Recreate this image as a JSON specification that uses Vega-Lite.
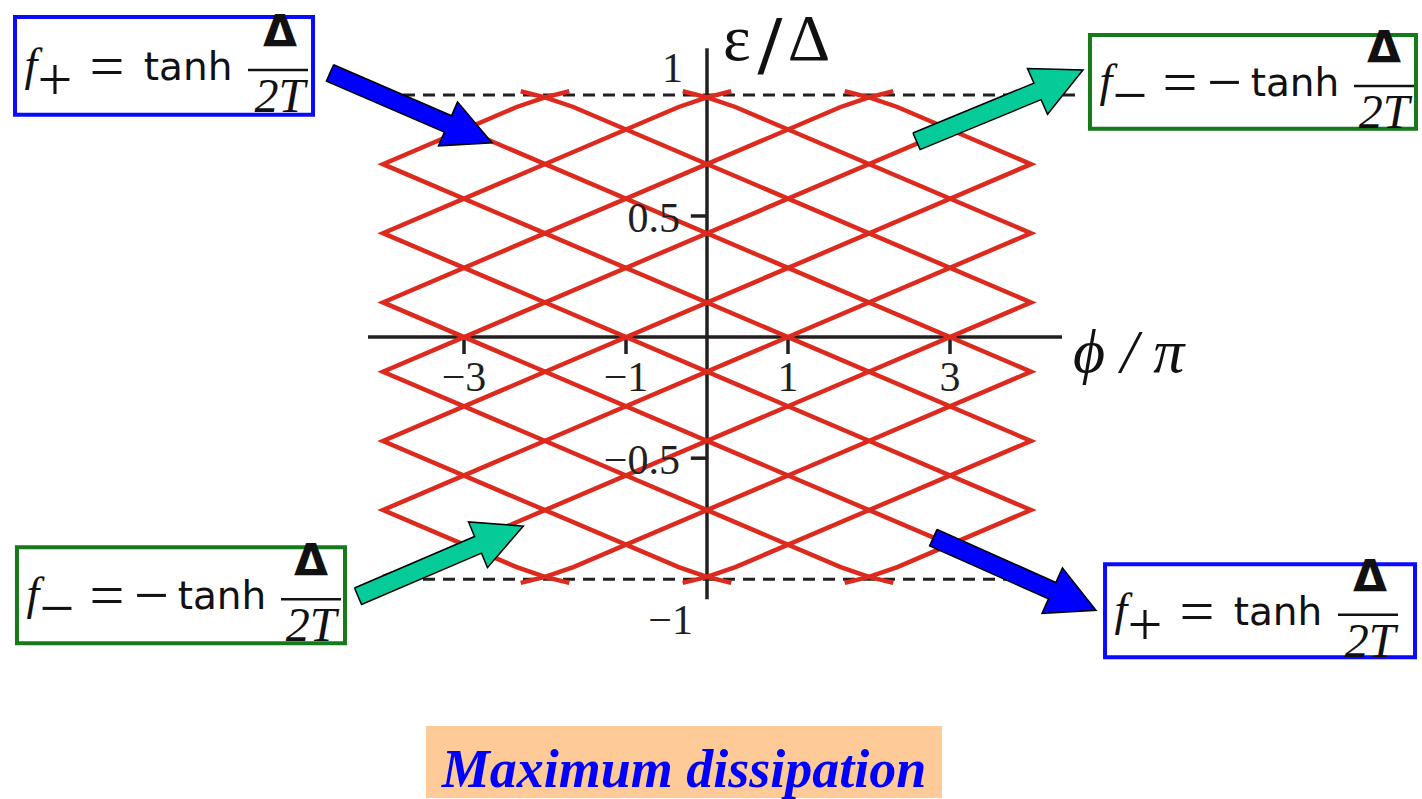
{
  "$schema": "https://vega.github.io/schema/vega-lite/v6.json",
  "width": 1422,
  "height": 799,
  "autosize": {"type": "fit", "contains": "padding"},
  "padding": 0,
  "background": "white",
  "config": {"view": {"stroke": null}},
  "datasets": {
    "banner": [{"phi": -3.469, "phi2": 2.901, "eps": -1.6062, "eps2": -1.9031}],
    "gapEdges": [
      {"phi": -4.0, "phi2": 4.57, "eps": 1.0},
      {"phi": -4.0, "phi2": 4.0, "eps": -1.0}
    ],
    "axes": [
      {"phi": -4.185, "phi2": 4.383, "eps": 0, "eps2": 0},
      {"phi": 0, "phi2": 0, "eps": 1.193, "eps2": -1.0825}
    ],
    "xticks": [
      {"phi": -3, "eps": 0, "eps2": -0.07, "label": "−3"},
      {"phi": -1, "eps": 0, "eps2": -0.07, "label": "−1"},
      {"phi": 1, "eps": 0, "eps2": -0.07, "label": "1"},
      {"phi": 3, "eps": 0, "eps2": -0.07, "label": "3"}
    ],
    "yticks": [
      {"phi": -0.2, "phi2": 0, "eps": 0.5, "label": "0.5"},
      {"phi": -0.2, "phi2": 0, "eps": -0.5, "label": "−0.5"}
    ],
    "yEnds": [
      {"phi": 0, "eps": 1, "label": "1"},
      {"phi": 0, "eps": -1, "label": "−1"}
    ],
    "levels": [
      {"c": "A", "k": 0, "phi": 1.7, "eps": -1.015},
      {"c": "A", "k": 1, "phi": 2.0, "eps": -0.99},
      {"c": "A", "k": 2, "phi": 2.35, "eps": -0.95},
      {"c": "A", "k": 3, "phi": 4.0, "eps": -0.714},
      {"c": "A", "k": 4, "phi": -4.0, "eps": 0.429},
      {"c": "A", "k": 5, "phi": -0.35, "eps": 0.95},
      {"c": "A", "k": 6, "phi": 0.0, "eps": 0.99},
      {"c": "A", "k": 7, "phi": 0.3, "eps": 1.015},

      {"c": "B", "k": 0, "phi": -0.3, "eps": -1.015},
      {"c": "B", "k": 1, "phi": 0.0, "eps": -0.99},
      {"c": "B", "k": 2, "phi": 0.35, "eps": -0.95},
      {"c": "B", "k": 3, "phi": 4.0, "eps": -0.429},
      {"c": "B", "k": 4, "phi": -4.0, "eps": 0.714},
      {"c": "B", "k": 5, "phi": -2.35, "eps": 0.95},
      {"c": "B", "k": 6, "phi": -2.0, "eps": 0.99},
      {"c": "B", "k": 7, "phi": -1.7, "eps": 1.015},

      {"c": "C", "k": 0, "phi": -2.3, "eps": -1.015},
      {"c": "C", "k": 1, "phi": -2.0, "eps": -0.99},
      {"c": "C", "k": 2, "phi": -1.65, "eps": -0.95},
      {"c": "C", "k": 3, "phi": 4.0, "eps": -0.143},
      {"c": "C", "k": 4, "phi": -3.65, "eps": 0.95},
      {"c": "C", "k": 5, "phi": -4.0, "eps": 0.99},

      {"c": "D", "k": 0, "phi": -4.0, "eps": -0.99},
      {"c": "D", "k": 1, "phi": -3.65, "eps": -0.95},
      {"c": "D", "k": 2, "phi": 4.0, "eps": 0.143},
      {"c": "D", "k": 3, "phi": -1.65, "eps": 0.95},
      {"c": "D", "k": 4, "phi": -2.0, "eps": 0.99},
      {"c": "D", "k": 5, "phi": -2.3, "eps": 1.015},

      {"c": "E", "k": 0, "phi": -1.7, "eps": -1.015},
      {"c": "E", "k": 1, "phi": -2.0, "eps": -0.99},
      {"c": "E", "k": 2, "phi": -2.35, "eps": -0.95},
      {"c": "E", "k": 3, "phi": -4.0, "eps": -0.714},
      {"c": "E", "k": 4, "phi": 4.0, "eps": 0.429},
      {"c": "E", "k": 5, "phi": 0.35, "eps": 0.95},
      {"c": "E", "k": 6, "phi": 0.0, "eps": 0.99},
      {"c": "E", "k": 7, "phi": -0.3, "eps": 1.015},

      {"c": "F", "k": 0, "phi": 0.3, "eps": -1.015},
      {"c": "F", "k": 1, "phi": 0.0, "eps": -0.99},
      {"c": "F", "k": 2, "phi": -0.35, "eps": -0.95},
      {"c": "F", "k": 3, "phi": -4.0, "eps": -0.429},
      {"c": "F", "k": 4, "phi": 4.0, "eps": 0.714},
      {"c": "F", "k": 5, "phi": 2.35, "eps": 0.95},
      {"c": "F", "k": 6, "phi": 2.0, "eps": 0.99},
      {"c": "F", "k": 7, "phi": 1.7, "eps": 1.015},

      {"c": "G", "k": 0, "phi": 2.3, "eps": -1.015},
      {"c": "G", "k": 1, "phi": 2.0, "eps": -0.99},
      {"c": "G", "k": 2, "phi": 1.65, "eps": -0.95},
      {"c": "G", "k": 3, "phi": -4.0, "eps": -0.143},
      {"c": "G", "k": 4, "phi": 3.65, "eps": 0.95},
      {"c": "G", "k": 5, "phi": 4.0, "eps": 0.99},

      {"c": "H", "k": 0, "phi": 4.0, "eps": -0.99},
      {"c": "H", "k": 1, "phi": 3.65, "eps": -0.95},
      {"c": "H", "k": 2, "phi": -4.0, "eps": 0.143},
      {"c": "H", "k": 3, "phi": 1.65, "eps": 0.95},
      {"c": "H", "k": 4, "phi": 2.0, "eps": 0.99},
      {"c": "H", "k": 5, "phi": 2.3, "eps": 1.015}
    ],
    "arrows": [
      {"a": 1, "tone": "blue", "k": 0, "phi": -4.610, "eps": 1.1245},
      {"a": 1, "tone": "blue", "k": 1, "phi": -3.153, "eps": 0.9142},
      {"a": 1, "tone": "blue", "k": 2, "phi": -3.080, "eps": 0.9711},
      {"a": 1, "tone": "blue", "k": 3, "phi": -2.654, "eps": 0.8021},
      {"a": 1, "tone": "blue", "k": 4, "phi": -3.315, "eps": 0.7897},
      {"a": 1, "tone": "blue", "k": 5, "phi": -3.242, "eps": 0.8466},
      {"a": 1, "tone": "blue", "k": 6, "phi": -4.699, "eps": 1.0569},
      {"a": 1, "tone": "blue", "k": 7, "phi": -4.610, "eps": 1.1245},

      {"a": 2, "tone": "teal", "k": 0, "phi": 2.542, "eps": 0.8425},
      {"a": 2, "tone": "teal", "k": 1, "phi": 4.036, "eps": 1.0487},
      {"a": 2, "tone": "teal", "k": 2, "phi": 3.957, "eps": 1.1089},
      {"a": 2, "tone": "teal", "k": 3, "phi": 4.642, "eps": 1.1031},
      {"a": 2, "tone": "teal", "k": 4, "phi": 4.204, "eps": 0.9200},
      {"a": 2, "tone": "teal", "k": 5, "phi": 4.125, "eps": 0.9802},
      {"a": 2, "tone": "teal", "k": 6, "phi": 2.631, "eps": 0.7740},
      {"a": 2, "tone": "teal", "k": 7, "phi": 2.542, "eps": 0.8425},

      {"a": 3, "tone": "teal", "k": 0, "phi": -4.352, "eps": -1.0359},
      {"a": 3, "tone": "teal", "k": 1, "phi": -2.870, "eps": -0.8235},
      {"a": 3, "tone": "teal", "k": 2, "phi": -2.944, "eps": -0.7633},
      {"a": 3, "tone": "teal", "k": 3, "phi": -2.268, "eps": -0.7802},
      {"a": 3, "tone": "teal", "k": 4, "phi": -2.710, "eps": -0.9522},
      {"a": 3, "tone": "teal", "k": 5, "phi": -2.784, "eps": -0.8920},
      {"a": 3, "tone": "teal", "k": 6, "phi": -4.265, "eps": -1.1043},
      {"a": 3, "tone": "teal", "k": 7, "phi": -4.352, "eps": -1.0359},

      {"a": 4, "tone": "blue", "k": 0, "phi": 2.840, "eps": -0.7942},
      {"a": 4, "tone": "blue", "k": 1, "phi": 4.307, "eps": -1.0132},
      {"a": 4, "tone": "blue", "k": 2, "phi": 4.388, "eps": -0.9530},
      {"a": 4, "tone": "blue", "k": 3, "phi": 4.802, "eps": -1.1278},
      {"a": 4, "tone": "blue", "k": 4, "phi": 4.136, "eps": -1.1411},
      {"a": 4, "tone": "blue", "k": 5, "phi": 4.216, "eps": -1.0808},
      {"a": 4, "tone": "blue", "k": 6, "phi": 2.748, "eps": -0.8619},
      {"a": 4, "tone": "blue", "k": 7, "phi": 2.840, "eps": -0.7942}
    ],
    "boxes": [
      {"box": "TL", "tone": "blue", "phi": -8.543, "phi2": -4.864, "eps": 1.3216, "eps2": 0.9175},
      {"box": "TR", "tone": "green", "phi": 4.728, "phi2": 8.753, "eps": 1.2474, "eps2": 0.8598},
      {"box": "BL", "tone": "green", "phi": -8.519, "phi2": -4.469, "eps": -0.8680, "eps2": -1.2639},
      {"box": "BR", "tone": "blue", "phi": 4.914, "phi2": 8.741, "eps": -0.9381, "eps2": -1.3216}
    ],
    "fractionBars": [
      {"box": "TL", "phi": -5.667, "phi2": -4.926, "eps": 1.1031},
      {"box": "BR", "phi": 7.790, "phi2": 8.531, "eps": -1.1464},
      {"box": "TR", "phi": 7.988, "phi2": 8.728, "eps": 1.0371},
      {"box": "BL", "phi": -5.259, "phi2": -4.519, "eps": -1.0825}
    ],
    "formula": [
      {"box": "TL", "part": "f", "text": "f", "phi": -8.346, "eps": 1.0619},
      {"box": "TL", "part": "sub", "text": "+", "phi": -8.049, "eps": 1.0577},
      {"box": "TL", "part": "eq", "text": "=", "phi": -7.407, "eps": 1.1113},
      {"box": "TL", "part": "tanh", "text": "tanh", "phi": -6.407, "eps": 1.0619},
      {"box": "TL", "part": "num", "text": "Δ", "phi": -5.272, "eps": 1.1979},
      {"box": "TL", "part": "den", "text": "2T", "phi": -5.272, "eps": 0.9299},

      {"box": "BR", "part": "f", "text": "f", "phi": 5.111, "eps": -1.1876},
      {"box": "BR", "part": "sub", "text": "+", "phi": 5.407, "eps": -1.1918},
      {"box": "BR", "part": "eq", "text": "=", "phi": 6.049, "eps": -1.1381},
      {"box": "BR", "part": "tanh", "text": "tanh", "phi": 7.049, "eps": -1.1876},
      {"box": "BR", "part": "num", "text": "Δ", "phi": 8.185, "eps": -1.0515},
      {"box": "BR", "part": "den", "text": "2T", "phi": 8.185, "eps": -1.3196},

      {"box": "TR", "part": "f", "text": "f", "phi": 4.926, "eps": 0.9959},
      {"box": "TR", "part": "sub", "text": "−", "phi": 5.222, "eps": 0.9918},
      {"box": "TR", "part": "eq", "text": "=", "phi": 5.840, "eps": 1.0454},
      {"box": "TR", "part": "neg", "text": "−", "phi": 6.390, "eps": 1.0454},
      {"box": "TR", "part": "tanh", "text": "tanh", "phi": 7.259, "eps": 0.9959},
      {"box": "TR", "part": "num", "text": "Δ", "phi": 8.358, "eps": 1.1320},
      {"box": "TR", "part": "den", "text": "2T", "phi": 8.358, "eps": 0.8639},

      {"box": "BL", "part": "f", "text": "f", "phi": -8.321, "eps": -1.1237},
      {"box": "BL", "part": "sub", "text": "−", "phi": -8.025, "eps": -1.1278},
      {"box": "BL", "part": "eq", "text": "=", "phi": -7.407, "eps": -1.0742},
      {"box": "BL", "part": "neg", "text": "−", "phi": -6.857, "eps": -1.0742},
      {"box": "BL", "part": "tanh", "text": "tanh", "phi": -5.988, "eps": -1.1237},
      {"box": "BL", "part": "num", "text": "Δ", "phi": -4.889, "eps": -0.9876},
      {"box": "BL", "part": "den", "text": "2T", "phi": -4.889, "eps": -1.2557}
    ],
    "yTitle": [
      {"part": "sym", "text": "ε", "phi": 0.370, "eps": 1.1443},
      {"part": "slash", "text": "/", "phi": 0.778, "eps": 1.0866},
      {"part": "sym", "text": "Δ", "phi": 1.259, "eps": 1.1443}
    ],
    "xTitle": [{"text": "ϕ / π", "phi": 4.519, "eps": -0.1423}]
  },
  "encoding": {
    "x": {"field": "phi", "type": "quantitative", "scale": {"domain": [-8.7284, 8.8272], "nice": false, "zero": false}, "axis": null},
    "y": {"field": "eps", "type": "quantitative", "scale": {"domain": [-1.90309, 1.39175], "nice": false, "zero": false}, "axis": null}
  },
  "layer": [
    {
      "data": {"name": "banner"},
      "mark": {"type": "rect", "fill": "#fdca98", "stroke": null},
      "encoding": {"x2": {"field": "phi2"}, "y2": {"field": "eps2"}}
    },
    {
      "data": {"name": "gapEdges"},
      "mark": {"type": "rule", "color": "#231f20", "strokeWidth": 3, "strokeDash": [12, 8]},
      "encoding": {"x2": {"field": "phi2"}}
    },
    {
      "data": {"name": "axes"},
      "mark": {"type": "rule", "color": "#231f20", "strokeWidth": 3.5},
      "encoding": {"x2": {"field": "phi2"}, "y2": {"field": "eps2"}}
    },
    {
      "data": {"name": "xticks"},
      "mark": {"type": "rule", "color": "#231f20", "strokeWidth": 3.5},
      "encoding": {"y2": {"field": "eps2"}}
    },
    {
      "data": {"name": "yticks"},
      "mark": {"type": "rule", "color": "#231f20", "strokeWidth": 3.5},
      "encoding": {"x2": {"field": "phi2"}}
    },
    {
      "data": {"name": "levels"},
      "mark": {"type": "line", "color": "#dc2a1e", "strokeWidth": 4.5, "strokeJoin": "miter"},
      "encoding": {"detail": {"field": "c"}, "order": {"field": "k", "type": "quantitative"}}
    },
    {
      "data": {"name": "xticks"},
      "mark": {"type": "text", "font": "Liberation Serif", "fontSize": 42, "align": "center", "baseline": "alphabetic", "dy": 54, "color": "#231f20"},
      "encoding": {"text": {"field": "label"}}
    },
    {
      "data": {"name": "yticks"},
      "mark": {"type": "text", "font": "Liberation Serif", "fontSize": 42, "align": "right", "baseline": "alphabetic", "dx": -27, "dy": 16, "color": "#231f20"},
      "encoding": {"x": {"field": "phi2"}, "text": {"field": "label"}}
    },
    {
      "data": {"name": "yEnds"},
      "transform": [{"filter": "datum.eps > 0"}],
      "mark": {"type": "text", "font": "Liberation Serif", "fontSize": 42, "align": "right", "baseline": "alphabetic", "dx": -24, "dy": -13, "color": "#231f20"},
      "encoding": {"text": {"field": "label"}}
    },
    {
      "data": {"name": "yEnds"},
      "transform": [{"filter": "datum.eps < 0"}],
      "mark": {"type": "text", "font": "Liberation Serif", "fontSize": 42, "align": "right", "baseline": "alphabetic", "dx": -14, "dy": 55, "color": "#231f20"},
      "encoding": {"text": {"field": "label"}}
    },
    {
      "data": {"name": "arrows"},
      "transform": [{"filter": "datum.tone == 'blue'"}],
      "mark": {"type": "line", "fill": "#0000ff", "stroke": "#000000", "strokeWidth": 1.5, "strokeJoin": "miter"},
      "encoding": {"detail": {"field": "a"}, "order": {"field": "k", "type": "quantitative"}}
    },
    {
      "data": {"name": "arrows"},
      "transform": [{"filter": "datum.tone == 'teal'"}],
      "mark": {"type": "line", "fill": "#05cb98", "stroke": "#000000", "strokeWidth": 1.5, "strokeJoin": "miter"},
      "encoding": {"detail": {"field": "a"}, "order": {"field": "k", "type": "quantitative"}}
    },
    {
      "data": {"name": "boxes"},
      "mark": {"type": "rect", "fill": "white", "strokeWidth": 4},
      "encoding": {
        "x2": {"field": "phi2"},
        "y2": {"field": "eps2"},
        "stroke": {"field": "tone", "type": "nominal", "scale": {"domain": ["blue", "green"], "range": ["#0a0aff", "#16791a"]}, "legend": null}
      }
    },
    {
      "data": {"name": "fractionBars"},
      "mark": {"type": "rule", "color": "#111111", "strokeWidth": 2.5},
      "encoding": {"x2": {"field": "phi2"}}
    },
    {
      "data": {"name": "formula"},
      "transform": [{"filter": {"field": "part", "equal": "f"}}],
      "mark": {"type": "text", "font": "Liberation Serif", "fontStyle": "italic", "fontSize": 46, "align": "center", "baseline": "alphabetic", "color": "#111111"},
      "encoding": {"text": {"field": "text"}}
    },
    {
      "data": {"name": "formula"},
      "transform": [{"filter": {"field": "part", "equal": "den"}}],
      "mark": {"type": "text", "font": "Liberation Serif", "fontStyle": "italic", "fontSize": 48, "align": "center", "baseline": "alphabetic", "color": "#111111"},
      "encoding": {"text": {"field": "text"}}
    },
    {
      "data": {"name": "formula"},
      "transform": [{"filter": {"field": "part", "oneOf": ["sub", "eq", "neg"]}}],
      "mark": {"type": "text", "font": "Liberation Serif", "fontSize": 62, "align": "center", "baseline": "middle", "color": "#111111"},
      "encoding": {"text": {"field": "text"}}
    },
    {
      "data": {"name": "formula"},
      "transform": [{"filter": {"field": "part", "equal": "tanh"}}],
      "mark": {"type": "text", "font": "DejaVu Sans", "fontSize": 39, "align": "center", "baseline": "alphabetic", "color": "#111111"},
      "encoding": {"text": {"field": "text"}}
    },
    {
      "data": {"name": "formula"},
      "transform": [{"filter": {"field": "part", "equal": "num"}}],
      "mark": {"type": "text", "font": "DejaVu Sans", "fontWeight": "bold", "fontSize": 44, "align": "center", "baseline": "alphabetic", "color": "#111111"},
      "encoding": {"text": {"field": "text"}}
    },
    {
      "data": {"name": "yTitle"},
      "transform": [{"filter": {"field": "part", "equal": "sym"}}],
      "mark": {"type": "text", "font": "Liberation Serif", "fontSize": 66, "align": "center", "baseline": "alphabetic", "color": "#111111"},
      "encoding": {"text": {"field": "text"}}
    },
    {
      "data": {"name": "yTitle"},
      "transform": [{"filter": {"field": "part", "equal": "slash"}}],
      "mark": {"type": "text", "font": "Liberation Serif", "fontWeight": "bold", "fontSize": 84, "align": "center", "baseline": "alphabetic", "color": "#111111"},
      "encoding": {"text": {"field": "text"}}
    },
    {
      "data": {"name": "xTitle"},
      "mark": {"type": "text", "font": "Liberation Serif", "fontStyle": "italic", "fontSize": 62, "align": "left", "baseline": "alphabetic", "color": "#111111"},
      "encoding": {"text": {"field": "text"}}
    },
    {
      "data": {"values": [{"phi": -0.284, "eps": -1.8577, "label": "Maximum dissipation"}]},
      "mark": {"type": "text", "font": "Liberation Serif", "fontStyle": "italic", "fontWeight": "bold", "fontSize": 54, "align": "center", "baseline": "alphabetic", "color": "#0000ff"},
      "encoding": {"text": {"field": "label"}}
    }
  ]
}
